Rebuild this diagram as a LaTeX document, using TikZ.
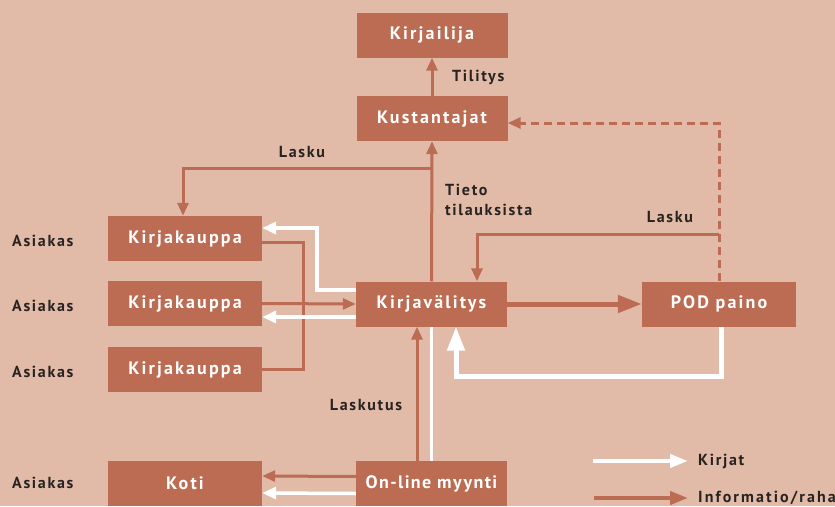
\documentclass[tikz,border=0pt]{standalone}
\usepackage{fontspec}
\setmainfont{PT Sans}
\newfontfamily\boxfont[LetterSpace=12]{PT Sans}
\newfontfamily\boxfontn[LetterSpace=7.5]{PT Sans}
\newfontfamily\labfont[LetterSpace=10.5]{PT Sans}
\newfontfamily\labfontw[LetterSpace=13]{PT Sans}
\usetikzlibrary{arrows.meta}
\definecolor{bgc}{RGB}{225,187,168}
\definecolor{boxc}{RGB}{188,108,82}
\definecolor{txtc}{RGB}{40,34,32}
\tikzset{
  x=1pt, y=-1pt,
  box/.style={fill=boxc, text=white, minimum width=151pt, minimum height=45pt, inner sep=0pt, font=\boxfont\bfseries\fontsize{18}{20}\selectfont},
  kbox/.style={box, minimum width=154pt},
  lab/.style={text=txtc, inner sep=0pt, font=\labfont\bfseries\fontsize{16}{20}\selectfont},
  oline/.style={draw=boxc, line width=3pt},
  oarrow/.style={oline, -{Triangle[length=13pt,width=11pt]}},
  othick/.style={draw=boxc, line width=5pt, -{Triangle[length=24pt,width=17pt]}},
  wline/.style={draw=white, line width=3.5pt},
  warrow/.style={wline, -{Triangle[length=14pt,width=12pt]}},
  wthick/.style={draw=white, line width=5pt, -{Triangle[length=24pt,width=17pt]}},
  odash/.style={oline, dash pattern=on 8pt off 5pt, -{Triangle[length=13pt,width=11pt]}},
  legw/.style={draw=white, line width=4pt, -{Triangle[length=18pt,width=13pt]}},
  lego/.style={draw=boxc, line width=4pt, -{Triangle[length=18pt,width=13pt]}},
}
\begin{document}
\begin{tikzpicture}
\fill[bgc] (0,0) rectangle (835,506);
\clip (0,0) rectangle (835,506);
% boxes
\node[box] (kirjailija) at (432,35) {Kirjailija};
\node[box] (kust) at (432,118.5) {Kustantajat};
\node[kbox] (kk1) at (185,238.5) {Kirjakauppa};
\node[kbox] (kk2) at (185,303.5) {Kirjakauppa};
\node[kbox] (kk3) at (185,369.5) {Kirjakauppa};
\node[box] (kv) at (431.5,304) {Kirjavälitys};
\node[kbox] (pod) at (719,304) {POD paino};
\node[kbox] (koti) at (185,483) {Koti};
\node[box, font=\boxfontn\bfseries\fontsize{18}{20}\selectfont] (on) at (431.5,483.5) {On-line myynti};
% labels
\node[lab, anchor=west] (as1) at (12,241) {Asiakas};
\node[lab, anchor=west] (as2) at (12,306) {Asiakas};
\node[lab, anchor=west] (as3) at (12,372) {Asiakas};
\node[lab, anchor=west] (as4) at (12,483) {Asiakas};
\node[lab, anchor=west] (tilitys) at (452,77) {Tilitys};
\node[lab] (lasku1) at (302,152) {Lasku};
\node[lab, anchor=west, align=left] (tieto) at (445,199.5) {Tieto\\tilauksista};
\node[lab] (lasku2) at (670,217) {Lasku};
\node[lab] (laskutus) at (366,405) {Laskutus};
\node[lab, anchor=west] (kirjat) at (698,461) {Kirjat};
\node[lab, anchor=west, font=\labfontw\bfseries\fontsize{16}{20}\selectfont] (info) at (698,498) {Informatio/raha};
% coordinates
\coordinate (lA) at (432,168);
\coordinate (pA) at (719,234);
\coordinate (wk) at (317,228);
\coordinate (ov) at (303,369.5);
\coordinate (wp) at (600,376);
\coordinate (l1) at (593,461);
\coordinate (l2) at (594,498);
% connectors
\draw[oarrow] (kust.north) -- (kirjailija.south);
\draw[oarrow] (kv.north) -- (kust.south);
\draw[oarrow] (lA) -| ([xshift=-2pt]kk1.north);
\draw[odash] (pod.north) |- ([yshift=-4.5pt]kust.east);
\draw[oarrow] (pA) -| ([xshift=45.5pt]kv.north);
\draw[othick] (kv.east) -- (pod.west);
\draw[wthick] ([xshift=2pt]pod.south) |- (wp) -| ([xshift=24.5pt]kv.south);
\draw[warrow] ([yshift=14pt]kv.west) -| (wk) -- (wk -| kk1.east);
\draw[oline] ([yshift=-3.5pt]kk1.east) -| (ov) -- (kk3.east);
\draw[oarrow] (kk2.east) -- (kv.west);
\draw[warrow] ([yshift=-13pt]kv.west) -- ([yshift=-13pt]kv.west -| kk2.east);
\draw[oarrow] ([xshift=-14.5pt]on.north) -- ([xshift=-14.5pt]kv.south);
\draw[wline] (on.north) -- (kv.south);
\draw[oarrow] ([yshift=7pt]on.west) -- ([yshift=7pt]koti.east);
\draw[warrow] ([yshift=-10pt]on.west) -- ([yshift=-10pt]koti.east);
\draw[legw] (l1) -- ([xshift=-10pt]kirjat.west);
\draw[lego] (l2) -- ([xshift=-10pt]info.west);
\end{tikzpicture}
\end{document}
